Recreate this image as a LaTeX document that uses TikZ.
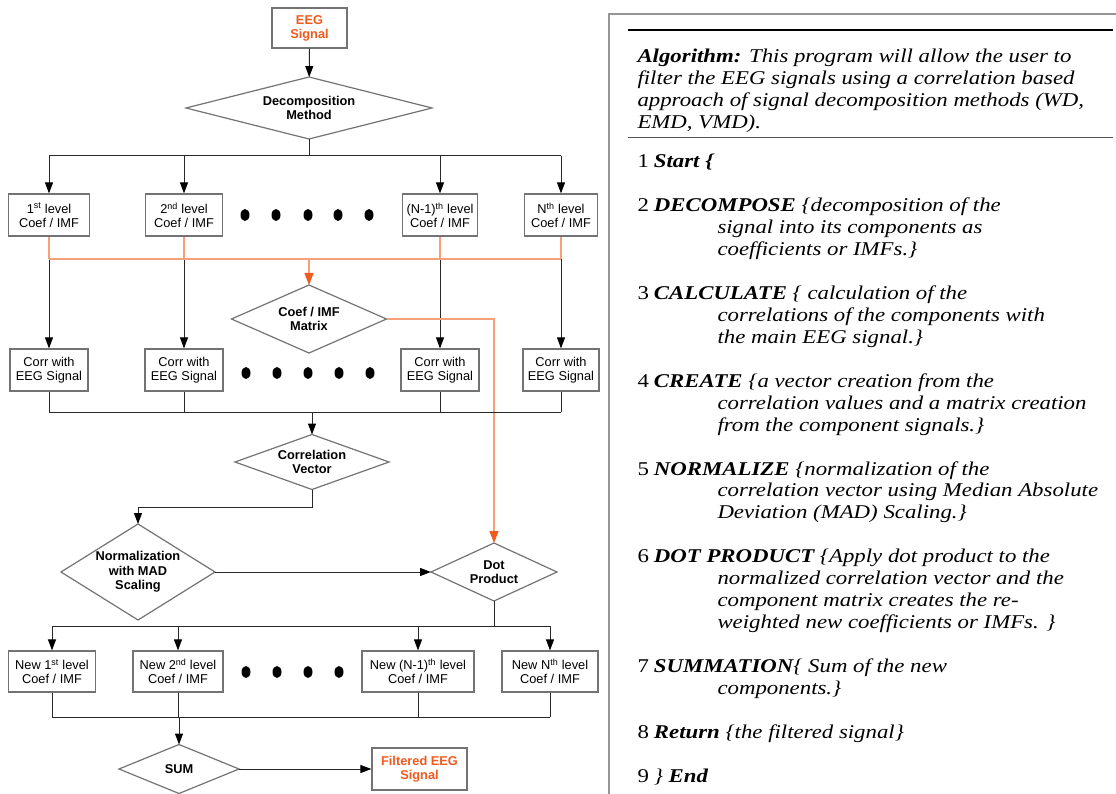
\documentclass[tikz,border=0pt]{standalone}
\usepackage{fontspec}
\setsansfont{Liberation Sans}
\newfontfamily\algfont{Liberation Serif}[FakeStretch=1.17]
\usetikzlibrary{shapes.geometric,arrows.meta}

\definecolor{eegorange}{RGB}{240,90,30}
\definecolor{orangeline}{RGB}{245,160,120}
\definecolor{boxgray}{RGB}{115,115,115}
\definecolor{linegray}{RGB}{40,40,40}
\definecolor{framegray}{RGB}{150,150,150}

\newcommand{\algind}{\hspace*{80pt}}

\begin{document}
\begin{tikzpicture}[x=1pt,y=-1pt,line width=1pt,
  box/.style={draw=boxgray,line width=1.2pt,inner sep=0pt,minimum height=42pt,align=center,
    font=\sffamily\fontsize{12.8}{14}\selectfont},
  redbox/.style={box,text=eegorange,font=\sffamily\bfseries\fontsize{12.8}{14}\selectfont},
  dia/.style={draw=boxgray,line width=1.2pt,shape=diamond,inner sep=0pt,outer sep=0pt},
  diatext/.style={align=center,font=\sffamily\bfseries\fontsize{12.8}{14.5}\selectfont},
  link/.style={draw=linegray},
  arr/.style={link,-{Triangle[width=8pt,length=11pt,color=black]}},
  redlink/.style={draw=orangeline,line width=1.2pt},
  redarr/.style={redlink,-{Triangle[width=9pt,length=12pt,color=eegorange]}},
  alg/.style={anchor=base west,inner sep=0pt,align=left,
    font=\algfont\itshape\fontsize{19.5}{21.9}\selectfont}]

  \useasboundingbox (0,0) rectangle (1116,794);

  % flowchart
  \path (309.5,28) node[redbox,minimum width=75pt,minimum height=40pt] (eeg) {EEG\\Signal};
  \path (309,108) node[dia,minimum width=246pt,minimum height=62pt,
     label={[diatext]center:Decomposition\\Method}] (dm) {};

  \path (49,215) node[box,minimum width=81pt] (l1) {1\textsuperscript{st} level\\Coef / IMF};
  \path (184,215) node[box,minimum width=77pt] (l2) {2\textsuperscript{nd} level\\Coef / IMF};
  \path (440,215) node[box,minimum width=75pt] (l3) {(N-1)\textsuperscript{th} level\\Coef / IMF};
  \path (561,215) node[box,minimum width=73pt] (l4) {N\textsuperscript{th} level\\Coef / IMF};

  \path (309,319) node[dia,minimum width=155pt,minimum height=68pt,
     label={[diatext]center:Coef / IMF\\Matrix}] (mx) {};

  \path (49,370) node[box,minimum width=78pt] (c1) {Corr with\\EEG Signal};
  \path (184,370) node[box,minimum width=78pt] (c2) {Corr with\\EEG Signal};
  \path (440,370) node[box,minimum width=78pt] (c3) {Corr with\\EEG Signal};
  \path (561,370) node[box,minimum width=76pt] (c4) {Corr with\\EEG Signal};

  \path (312,462) node[dia,minimum width=154pt,minimum height=55pt,
     label={[diatext]center:Correlation\\Vector}] (cv) {};
  \path (138,572) node[dia,minimum width=154pt,minimum height=96pt,
     label={[diatext]center:Normalization\\with MAD\\Scaling}] (nm) {};
  \path (494,572) node[dia,minimum width=126pt,minimum height=58pt,
     label={[diatext]center:Dot\\Product}] (dp) {};

  \path (52,671.5) node[box,minimum width=87pt,minimum height=41pt] (n1) {New 1\textsuperscript{st} level\\Coef / IMF};
  \path (178,671.5) node[box,minimum width=90pt,minimum height=41pt] (n2) {New 2\textsuperscript{nd} level\\Coef / IMF};
  \path (418,671.5) node[box,minimum width=112pt,minimum height=41pt] (n3) {New (N-1)\textsuperscript{th} level\\Coef / IMF};
  \path (550,671.5) node[box,minimum width=96pt,minimum height=41pt] (n4) {New N\textsuperscript{th} level\\Coef / IMF};

  \path (179,769) node[dia,minimum width=120pt,minimum height=49pt,
     label={[diatext]center:SUM}] (sm) {};
  \path (419.5,769) node[redbox,minimum width=95pt,minimum height=42pt] (fl) {Filtered EEG\\Signal};

  \coordinate (br) at (309,156);
  \coordinate (jn) at (309,259);
  \coordinate (mg) at (312,412);
  \coordinate (sp) at (494,626);
  \coordinate (sg) at (179,717);

  % connectors
  \draw[arr] (eeg) -- (dm);
  \draw[link] (dm.south) -- (br);
  \draw[link] (l1.north |- br) -- (l4.north |- br);
  \foreach \n in {l1,l2,l3,l4}
    \draw[arr] (\n.north |- br) -- (\n.north);

  \foreach \n/\m in {l1/c1,l2/c2,l3/c3,l4/c4}
    \draw[arr] (\n.south |- jn) -- (\m.north);
  \foreach \n in {l1,l2,l3,l4}
    \draw[redlink] (\n.south) -- (\n.south |- jn);
  \draw[redlink] (l1.south |- jn) -- (l4.south |- jn);
  \draw[redarr] (jn) -- (mx.north);
  \draw[redarr] (mx.east) -| (dp.north);

  \foreach \n in {c1,c2,c3,c4}
    \draw[link] (\n.south) -- (\n.south |- mg);
  \draw[link] (c1.south |- mg) -- (c4.south |- mg);
  \draw[arr] (mg) -- (cv.north);
  \draw[arr] (cv.south) -- ++(0,18) -| (nm.north);
  \draw[arr] (nm.east) -- (dp.west);

  \draw[link] (dp.south) -- (sp);
  \draw[link] (n1.north |- sp) -- (n4.north |- sp);
  \foreach \n in {n1,n2,n3,n4}
    \draw[arr] (\n.north |- sp) -- (\n.north);
  \foreach \n in {n1,n2,n3,n4}
    \draw[link] (\n.south) -- (\n.south |- sg);
  \draw[link] (n1.south |- sg) -- (n4.south |- sg);
  \draw[arr] (sg) -- (sm.north);
  \draw[arr] (sm.east) -- (fl.west);

  % dots
  \foreach \x in {245,276,308,338,369}
    \fill (\x,215) ellipse (4.5 and 6);
  \foreach \x in {246,277,308,339,370}
    \fill (\x,373) ellipse (4.5 and 6);
  \foreach \x in {246,277,308,339}
    \fill (\x,672) ellipse (4.5 and 6);

  % algorithm panel (base = last line of each node)
  \draw[framegray,line width=1.3pt] (1116,14) -- (609,14) -- (609,794);
  \draw[line width=1.8pt] (628,30) -- (1113,30);
  \draw[linegray!80,line width=1pt] (628,138) -- (1113,138);

  \path (637,128.5) node[alg] (hd) {\textbf{Algorithm:} This program will allow the user to\\
    filter the EEG signals using a correlation based\\
    approach of signal decomposition methods (WD,\\
    EMD, VMD).};
  \path (637,168) node[alg] (s1) {{\upshape 1}\hspace{5pt}\textbf{Start \{}};
  \path (637,255.7) node[alg] (s2) {{\upshape 2}\hspace{5pt}\textbf{DECOMPOSE} \{decomposition of the\\
    \algind signal into its components as\\
    \algind coefficients or IMFs.\}};
  \path (637,343.4) node[alg] (s3) {{\upshape 3}\hspace{5pt}\textbf{CALCULATE} \{ calculation of the\\
    \algind correlations of the components with\\
    \algind the main EEG signal.\}};
  \path (637,431.1) node[alg] (s4) {{\upshape 4}\hspace{5pt}\textbf{CREATE} \{a vector creation from the\\
    \algind correlation values and a matrix creation\\
    \algind from the component signals.\}};
  \path (637,518.8) node[alg] (s5) {{\upshape 5}\hspace{5pt}\textbf{NORMALIZE} \{normalization of the\\
    \algind correlation vector using Median Absolute\\
    \algind Deviation (MAD) Scaling.\}};
  \path (637,628.4) node[alg] (s6) {{\upshape 6}\hspace{5pt}\textbf{DOT PRODUCT} \{Apply dot product to the\\
    \algind normalized correlation vector and the\\
    \algind component matrix creates the re-\\
    \algind weighted new coefficients or IMFs. \}};
  \path (637,694.3) node[alg] (s7) {{\upshape 7}\hspace{5pt}\textbf{SUMMATION}\{ Sum of the new\\
    \algind components.\}};
  \path (637,738.2) node[alg] (s8) {{\upshape 8}\hspace{5pt}\textbf{Return} \{the filtered signal\}};
  \path (637,782) node[alg] (s9) {{\upshape 9}\hspace{5pt}\} \textbf{End}};

\end{tikzpicture}
\end{document}
